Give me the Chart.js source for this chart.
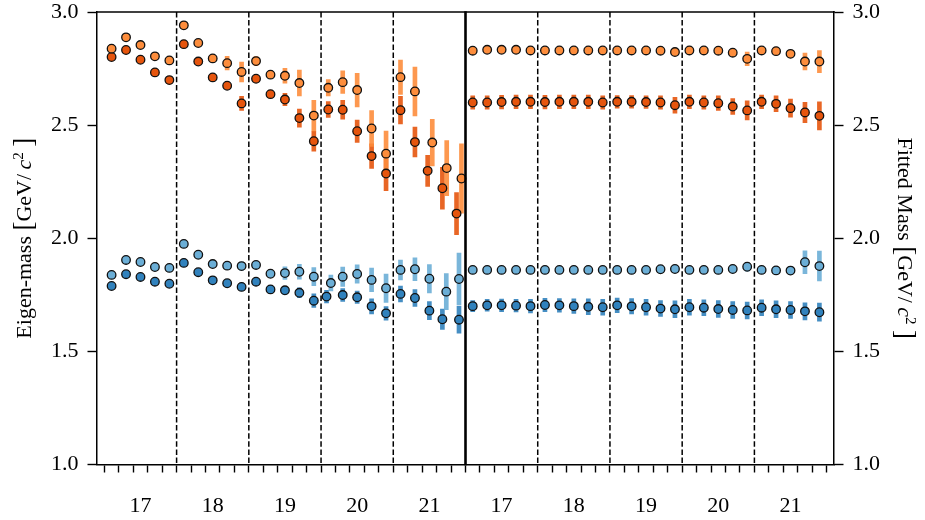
<!DOCTYPE html>
<html><head><meta charset="utf-8">
<script src="https://cdn.jsdelivr.net/npm/chart.js@4.4.1/dist/chart.umd.min.js"></script>
<style>html,body{margin:0;padding:0;background:#fff;}</style>
</head><body>
<canvas id="c" width="925" height="520"></canvas>
<script>
// ---- data ----
const groupLabels = ['17', '18', '19', '20', '21'];
const yTickValues = [1.0, 1.5, 2.0, 2.5, 3.0];
const pointsPerPanel = 25;

// Left panel: Eigen-mass
const eigenOrangeHi = [2.838,2.888,2.854,2.804,2.786, 2.941,2.863,2.795,2.774,2.735, 2.783,2.723,2.718,2.686,2.542, 2.665,2.690,2.655,2.485,2.374, 2.712,2.649,2.423,2.310,2.264];
const eigenOrangeHiErr = [0.005,0.005,0.005,0.006,0.012, 0.005,0.006,0.008,0.03,0.044, 0.02,0.012,0.033,0.057,0.068, 0.036,0.05,0.074,0.079,0.1, 0.076,0.108,0.103,0.122,0.153];
const eigenOrangeLo = [2.801,2.832,2.789,2.733,2.699, 2.858,2.781,2.711,2.674,2.596, 2.705,2.637,2.613,2.531,2.429, 2.569,2.568,2.473,2.363,2.286, 2.566,2.425,2.298,2.221,2.109];
const eigenOrangeLoErr = [0.005,0.005,0.005,0.005,0.006, 0.005,0.006,0.006,0.012,0.031, 0.01,0.014,0.027,0.04,0.044, 0.035,0.042,0.049,0.054,0.076, 0.061,0.066,0.069,0.092,0.093];
const eigenBlueHi = [1.838,1.904,1.895,1.873,1.869, 1.975,1.927,1.886,1.879,1.877, 1.882,1.843,1.846,1.852,1.830, 1.802,1.830,1.842,1.816,1.779, 1.860,1.863,1.821,1.764,1.820];
const eigenBlueHiErr = [0.004,0.004,0.004,0.004,0.006, 0.004,0.004,0.006,0.008,0.018, 0.015,0.012,0.028,0.033,0.04, 0.035,0.043,0.04,0.052,0.063, 0.044,0.05,0.063,0.08,0.114];
const eigenBlueLo = [1.789,1.841,1.829,1.808,1.799, 1.891,1.850,1.814,1.801,1.785, 1.808,1.774,1.770,1.759,1.724, 1.742,1.749,1.739,1.699,1.668, 1.754,1.736,1.680,1.642,1.640];
const eigenBlueLoErr = [0.004,0.004,0.004,0.004,0.004, 0.004,0.004,0.005,0.006,0.008, 0.008,0.01,0.018,0.022,0.03, 0.028,0.028,0.027,0.033,0.03, 0.035,0.037,0.04,0.045,0.06];
// small horizontal shifts of some left-panel points (in tick units)
const eigenOrangeHiShift = [0,0,0,0,0, 0,0,0,0,0, 0,0,0,0,0, 0,0,0,0,0, 0,0,0.2,0.2,0.22];
const eigenOrangeLoShift = [0,0,0,0,0, 0,0,0,0,0, 0,0,0,0,0, 0,0,0,0,0, 0,0,-0.12,-0.1,-0.12];
const eigenBlueHiShift   = [0,0,0,0,0, 0,0,0,0,0, 0,0,0,0,0, 0.18,0,0,0,0, 0,0,0,0.17,0.05];
const eigenBlueLoShift   = [0,0,0,0,0, 0,0,0,0,0, 0,0,0,0,0, -0.12,0,0,0,0, 0,0,0,-0.1,0.05];

// Right panel: Fitted mass
const fitOrangeHi = [2.829,2.833,2.833,2.833,2.830, 2.830,2.830,2.830,2.830,2.830, 2.830,2.830,2.830,2.829,2.823, 2.830,2.830,2.829,2.820,2.793, 2.830,2.827,2.815,2.781,2.781];
const fitOrangeHiErr = [0.005,0.005,0.005,0.005,0.005, 0.005,0.005,0.005,0.005,0.005, 0.005,0.005,0.005,0.008,0.01, 0.005,0.005,0.006,0.012,0.03, 0.006,0.008,0.015,0.037,0.049];
const fitOrangeLo = [2.600,2.600,2.602,2.603,2.603, 2.602,2.603,2.603,2.603,2.600, 2.603,2.603,2.602,2.600,2.588, 2.603,2.600,2.597,2.582,2.565, 2.603,2.594,2.575,2.556,2.541];
const fitOrangeLoErr = [0.03,0.03,0.03,0.03,0.03, 0.03,0.03,0.03,0.03,0.03, 0.028,0.028,0.028,0.03,0.035, 0.03,0.03,0.032,0.035,0.042, 0.03,0.035,0.04,0.045,0.062];
const fitBlueHi = [1.860,1.860,1.860,1.860,1.860, 1.860,1.860,1.860,1.860,1.860, 1.860,1.860,1.860,1.863,1.864, 1.860,1.860,1.860,1.864,1.874, 1.860,1.858,1.857,1.894,1.877];
const fitBlueHiErr = [0.006,0.006,0.006,0.006,0.006, 0.006,0.006,0.006,0.006,0.006, 0.006,0.006,0.006,0.015,0.015, 0.008,0.008,0.008,0.012,0.02, 0.015,0.015,0.018,0.05,0.066];
const fitBlueLo = [1.700,1.7035,1.7035,1.702,1.700, 1.705,1.7035,1.700,1.697,1.695, 1.7035,1.699,1.695,1.689,1.686, 1.695,1.693,1.687,1.683,1.681, 1.693,1.686,1.683,1.677,1.673];
const fitBlueLoErr = [0.024,0.026,0.028,0.028,0.03, 0.03,0.03,0.032,0.035,0.035, 0.032,0.034,0.035,0.035,0.037, 0.035,0.035,0.037,0.037,0.037, 0.035,0.037,0.037,0.038,0.04];

// ---- styling ----
const FONT = "'Liberation Serif', 'Times New Roman', serif";
const C = {
  orangeHi: '#fd8d3c', orangeLo: '#e6550d', blueHi: '#6baed6', blueLo: '#3182bd',
  orangeHiBar: 'rgba(253,141,60,0.9)', orangeLoBar: 'rgba(230,85,13,0.9)',
  blueHiBar: 'rgba(107,174,214,0.9)', blueLoBar: 'rgba(49,130,189,0.9)'
};

const zeros = new Array(pointsPerPanel).fill(0);
function errDataset(x0, vals, errs, shift, color) {
  return {
    type: 'bar', stack: 'err', order: 2, xAxisID: 'x', yAxisID: 'y',
    data: vals.map((v, i) => ({ x: x0 + i + shift[i], y: [v - errs[i], v + errs[i]] })),
    backgroundColor: color, borderWidth: 0, barThickness: 4, maxBarThickness: 4
  };
}
function ptDataset(x0, vals, shift, color) {
  return {
    type: 'scatter', order: 1, xAxisID: 'x', yAxisID: 'y', showLine: false,
    data: vals.map((v, i) => ({ x: x0 + i + shift[i], y: v })),
    backgroundColor: color, pointBackgroundColor: color,
    borderColor: '#111', pointBorderColor: '#111',
    pointRadius: 4.3, pointBorderWidth: 1.3, pointHoverRadius: 4.3
  };
}
const R = pointsPerPanel; // right panel offset
const datasets = [
  errDataset(0, eigenOrangeHi, eigenOrangeHiErr, eigenOrangeHiShift, C.orangeHiBar),
  errDataset(0, eigenOrangeLo, eigenOrangeLoErr, eigenOrangeLoShift, C.orangeLoBar),
  errDataset(0, eigenBlueHi, eigenBlueHiErr, eigenBlueHiShift, C.blueHiBar),
  errDataset(0, eigenBlueLo, eigenBlueLoErr, eigenBlueLoShift, C.blueLoBar),
  errDataset(R, fitOrangeHi, fitOrangeHiErr, zeros, C.orangeHiBar),
  errDataset(R, fitOrangeLo, fitOrangeLoErr, zeros, C.orangeLoBar),
  errDataset(R, fitBlueHi, fitBlueHiErr, zeros, C.blueHiBar),
  errDataset(R, fitBlueLo, fitBlueLoErr, zeros, C.blueLoBar),
  ptDataset(0, eigenOrangeHi, eigenOrangeHiShift, C.orangeHi),
  ptDataset(0, eigenOrangeLo, eigenOrangeLoShift, C.orangeLo),
  ptDataset(0, eigenBlueHi, eigenBlueHiShift, C.blueHi),
  ptDataset(0, eigenBlueLo, eigenBlueLoShift, C.blueLo),
  ptDataset(R, fitOrangeHi, zeros, C.orangeHi),
  ptDataset(R, fitOrangeLo, zeros, C.orangeLo),
  ptDataset(R, fitBlueHi, zeros, C.blueHi),
  ptDataset(R, fitBlueLo, zeros, C.blueLo)
];

const perGroup = pointsPerPanel / groupLabels.length;
const dividers = [];
for (let p = 0; p < 2; p++) for (let g = 1; g < groupLabels.length; g++) dividers.push(p * R + g * perGroup - 0.5);
const panelSplit = R - 0.5;

function drawRich(ctx, segs, cx, cy, angle) {
  ctx.save();
  ctx.translate(cx, cy);
  ctx.rotate(angle);
  ctx.fillStyle = '#000';
  ctx.textBaseline = 'alphabetic';
  let total = 0;
  segs.forEach(s => { ctx.font = s.font; s.w = ctx.measureText(s.t).width; total += s.w; });
  let x = -total / 2;
  segs.forEach(s => { ctx.font = s.font; ctx.fillText(s.t, x, s.dy); x += s.w; });
  ctx.restore();
}
const TS = 22;
const titleSegs = (main, gap) => [
  { t: main, font: `${TS}px ${FONT}`, dy: 7 },
  { t: '[', font: `${TS + 5}px ${FONT}`, dy: 8 },
  { t: 'GeV/' + gap, font: `${TS}px ${FONT}`, dy: 7 },
  { t: 'c', font: `italic ${TS}px ${FONT}`, dy: 7 },
  { t: '2', font: `${Math.round(TS * 0.68)}px ${FONT}`, dy: -1 },
  { t: gap + ']', font: `${TS + 5}px ${FONT}`, dy: 8 }
];

const decor = {
  id: 'decor',
  beforeDatasetsDraw(chart) {
    const { ctx, chartArea: a, scales: { x } } = chart;
    ctx.save();
    ctx.strokeStyle = '#000';
    ctx.lineWidth = 1.5;
    ctx.setLineDash([5.5, 2.6]);
    dividers.forEach(v => {
      const px = x.getPixelForValue(v);
      ctx.beginPath(); ctx.moveTo(px, a.top); ctx.lineTo(px, a.bottom); ctx.stroke();
    });
    ctx.restore();
  },
  afterDraw(chart) {
    const { ctx, chartArea: a, scales: { x } } = chart;
    ctx.save();
    ctx.strokeStyle = '#000';
    ctx.lineWidth = 2.6;
    const px = x.getPixelForValue(panelSplit);
    ctx.beginPath(); ctx.moveTo(px, a.top - 0.7); ctx.lineTo(px, a.bottom + 0.7); ctx.stroke();
    ctx.lineWidth = 1.5;
    ctx.beginPath(); ctx.moveTo(a.left - 0.75, a.top); ctx.lineTo(a.right + 0.75, a.top); ctx.stroke();
    ctx.restore();
    drawRich(ctx, titleSegs('Eigen-mass ', '\u2009'), 24, (a.top + a.bottom) / 2, -Math.PI / 2);
    drawRich(ctx, titleSegs('Fitted Mass ', '\u2009'), 905, (a.top + a.bottom) / 2, Math.PI / 2);
  }
};

const tickFont = { family: FONT, size: 22, lineHeight: 1 };
const yAxis = (pos, width) => ({
  type: 'linear', position: pos, min: 1, max: 3, stacked: false,
  afterBuildTicks: s => { s.ticks = yTickValues.map(v => ({ value: v })); },
  afterFit: s => { s.width = width; s.paddingTop = 0; s.paddingBottom = 0; },
  ticks: { callback: v => Number(v).toFixed(1), font: tickFont, color: '#000', padding: 9 },
  grid: { drawOnChartArea: false, drawTicks: true, tickLength: 9.5, tickWidth: 1.4, tickColor: '#000' },
  border: { display: true, color: '#000', width: 1.5 }
});

new Chart(document.getElementById('c'), {
  type: 'scatter',
  data: { datasets },
  options: {
    responsive: false, animation: false,
    layout: { padding: { top: 12, left: 0, right: 0, bottom: 0 } },
    plugins: { legend: { display: false }, tooltip: { enabled: false } },
    scales: {
      x: {
        type: 'linear', position: 'bottom', min: -0.5, max: 2 * R - 0.5,
        afterBuildTicks: s => { s.ticks = Array.from({ length: 2 * R }, (_, i) => ({ value: i })); },
        afterFit: s => { s.height = 55.5; s.paddingLeft = 0; s.paddingRight = 0; },
        ticks: {
          autoSkip: false, maxRotation: 0, minRotation: 0, font: tickFont, color: '#000', padding: 23,
          callback: v => {
            const k = Math.round(v) % R;
            return (k % perGroup === Math.floor(perGroup / 2)) ? groupLabels[Math.floor(k / perGroup)] : '';
          }
        },
        grid: { drawOnChartArea: false, drawTicks: true, tickLength: 8, tickWidth: 1.4, tickColor: '#000' },
        border: { display: true, color: '#000', width: 1.5 }
      },
      y: yAxis('left', 97),
      y2: yAxis('right', 91)
    }
  },
  plugins: [decor]
});
</script>
</body></html>
